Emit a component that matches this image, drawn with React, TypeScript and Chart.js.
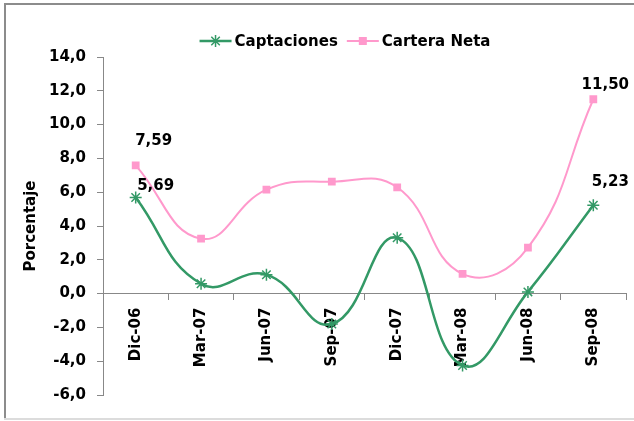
import React, { useEffect, useRef } from "react";
import { Chart, registerables } from "chart.js";

Chart.register(...registerables);

const categories = ["Dic-06", "Mar-07", "Jun-07", "Sep-07", "Dic-07", "Mar-08", "Jun-08", "Sep-08"];
const captaciones = [5.69, 0.58, 1.12, -1.8, 3.3, -4.25, 0.1, 5.23];
const carteraNeta = [7.59, 3.25, 6.15, 6.62, 6.29, 1.17, 2.72, 11.5];
const seriesNames = ["Captaciones", "Cartera Neta"];
const yMin = -6;
const yMax = 14;
const yStep = 2;
const axisTitle = "Porcentaje";

const GREEN = "#339966";
const PINK = "#FF99CC";
const AXIS = "#888888";
const FONT = "'DejaVu Sans', Verdana, sans-serif";

const fmt = (v: number, d: number) => v.toFixed(d).replace(".", ",");

// which points carry a value label, with a label offset (px) relative to the point
const labelSpecs = [
  { ds: 1, idx: 0, dx: 18, dy: -24 },
  { ds: 0, idx: 0, dx: 20, dy: -11 },
  { ds: 1, idx: 7, dx: 12, dy: -14 },
  { ds: 0, idx: 7, dx: 17, dy: -23 },
];

const framePlugin = {
  id: "frame",
  beforeDraw(chart: any) {
    const { ctx, width, height } = chart;
    ctx.save();
    ctx.fillStyle = "#ffffff";
    ctx.fillRect(0, 0, width, height);
    ctx.fillStyle = "#8c8c8c";
    ctx.fillRect(4, 3, width - 4, 2);
    ctx.fillRect(4, 3, 2, height - 5);
    ctx.fillStyle = "#dcdcdc";
    ctx.fillRect(4, height - 3, width - 4, 2);
    ctx.restore();
  },
};

const drawStar = (ctx: CanvasRenderingContext2D, x: number, y: number, r: number) => {
  ctx.beginPath();
  ctx.moveTo(x - r, y);
  ctx.lineTo(x + r, y);
  ctx.moveTo(x, y - r);
  ctx.lineTo(x, y + r);
  const d = r * Math.SQRT1_2;
  ctx.moveTo(x - d, y - d);
  ctx.lineTo(x + d, y + d);
  ctx.moveTo(x - d, y + d);
  ctx.lineTo(x + d, y - d);
  ctx.stroke();
};

const legendPlugin = {
  id: "customLegend",
  afterDraw(chart: any) {
    const ctx: CanvasRenderingContext2D = chart.ctx;
    ctx.save();
    ctx.font = `bold 15px ${FONT}`;
    ctx.textBaseline = "middle";
    ctx.textAlign = "left";
    const lineLen = 32;
    const gapText = 3;
    const gapItem = 9;
    const w0 = ctx.measureText(seriesNames[0]).width;
    const w1 = ctx.measureText(seriesNames[1]).width;
    const total = lineLen + gapText + w0 + gapItem + lineLen + gapText + w1;
    const cx = 345;
    const y = 41;
    let x = cx - total / 2;
    // item 1
    ctx.strokeStyle = GREEN;
    ctx.lineWidth = 2.5;
    ctx.beginPath();
    ctx.moveTo(x, y);
    ctx.lineTo(x + lineLen, y);
    ctx.stroke();
    ctx.lineWidth = 1.5;
    drawStar(ctx, x + lineLen / 2, y, 6);
    x += lineLen + gapText;
    ctx.fillStyle = "#000";
    ctx.fillText(seriesNames[0], x, y + 1);
    x += w0 + gapItem;
    // item 2
    ctx.strokeStyle = PINK;
    ctx.lineWidth = 2;
    ctx.beginPath();
    ctx.moveTo(x, y);
    ctx.lineTo(x + lineLen, y);
    ctx.stroke();
    ctx.fillStyle = PINK;
    ctx.fillRect(x + lineLen / 2 - 4, y - 4, 8, 8);
    x += lineLen + gapText;
    ctx.fillStyle = "#000";
    ctx.fillText(seriesNames[1], x, y + 1);
    ctx.restore();
  },
};

const valueLabelPlugin = {
  id: "valueLabels",
  afterDatasetsDraw(chart: any) {
    const ctx: CanvasRenderingContext2D = chart.ctx;
    ctx.save();
    ctx.font = `bold 15px ${FONT}`;
    ctx.fillStyle = "#000";
    ctx.textAlign = "center";
    ctx.textBaseline = "middle";
    labelSpecs.forEach((s) => {
      const el = chart.getDatasetMeta(s.ds).data[s.idx];
      const v = chart.data.datasets[s.ds].data[s.idx] as number;
      ctx.fillText(fmt(v, 2), el.x + s.dx, el.y + s.dy);
    });
    ctx.restore();
  },
};

export default function App() {
  const ref = useRef<HTMLCanvasElement>(null);

  useEffect(() => {
    if (!ref.current) return;
    const font = { family: FONT, size: 15, weight: "bold" as const };
    const chart = new Chart(ref.current, {
      type: "line",
      data: {
        labels: categories,
        datasets: [
          {
            label: seriesNames[0],
            data: captaciones,
            borderColor: GREEN,
            backgroundColor: GREEN,
            borderWidth: 2.5,
            tension: 0.45,
            pointStyle: "star",
            pointRadius: 6,
            pointBorderWidth: 1.5,
            pointBorderColor: GREEN,
            fill: false,
          },
          {
            label: seriesNames[1],
            data: carteraNeta,
            borderColor: PINK,
            backgroundColor: PINK,
            borderWidth: 2,
            tension: 0.45,
            pointStyle: "rect",
            pointRadius: 5.5,
            pointBorderWidth: 0,
            pointBackgroundColor: PINK,
            fill: false,
          },
        ],
      },
      options: {
        responsive: false,
        animation: false,
        layout: { padding: { top: 57, bottom: 26, left: 0, right: 8 } },
        plugins: {
          legend: { display: false },
          title: { display: false },
          tooltip: { enabled: false },
        },
        scales: {
          x: {
            type: "category",
            position: { y: 0 } as any,
            offset: true,
            grid: {
              drawOnChartArea: false,
              drawTicks: true,
              tickLength: 6,
              color: AXIS,
              offset: true,
            },
            border: { color: AXIS, width: 1 },
            ticks: {
              color: "#000",
              font,
              minRotation: 90,
              maxRotation: 90,
              padding: 8,
              autoSkip: false,
            },
          },
          y: {
            min: yMin,
            max: yMax,
            afterFit: (scale: any) => {
              scale.width = 103;
            },
            grid: {
              drawOnChartArea: false,
              drawTicks: true,
              tickLength: 6,
              color: AXIS,
            },
            border: { color: AXIS, width: 1 },
            ticks: {
              stepSize: yStep,
              color: "#000",
              font,
              padding: 11,
              callback: (v: any) => fmt(Number(v), 1),
            },
            title: {
              display: true,
              text: axisTitle,
              color: "#000",
              font,
              padding: { top: 22, bottom: 0 },
            },
          },
        },
      },
      plugins: [framePlugin, legendPlugin, valueLabelPlugin],
    });
    return () => chart.destroy();
  }, []);

  return (
    <div style={{ position: "absolute", left: 0, top: 0, width: 634, height: 421 }}>
      <canvas ref={ref} width={634} height={421} style={{ width: 634, height: 421, display: "block" }} />
    </div>
  );
}
